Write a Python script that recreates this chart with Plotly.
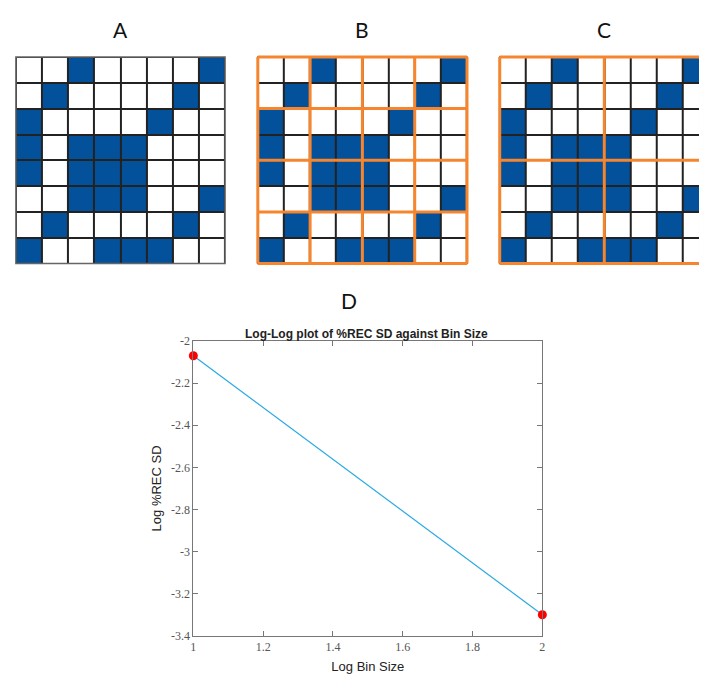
import plotly.graph_objects as go

# ---------------- data ----------------
grid_rows = [
    [0, 0, 1, 0, 0, 0, 0, 1],
    [0, 1, 0, 0, 0, 0, 1, 0],
    [1, 0, 0, 0, 0, 1, 0, 0],
    [1, 0, 1, 1, 1, 0, 0, 0],
    [1, 0, 1, 1, 1, 0, 0, 0],
    [0, 0, 1, 1, 1, 0, 0, 1],
    [0, 1, 0, 0, 0, 0, 1, 0],
    [1, 0, 0, 1, 1, 1, 0, 0],
]
panel_labels = ["A", "B", "C"]
panel_bins = [None, 2, 4]
log_bin_size = [1, 2]
log_rec_sd = [-2.07, -3.30]
x_ticks = [1, 1.2, 1.4, 1.6, 1.8, 2]
y_ticks = [-2, -2.2, -2.4, -2.6, -2.8, -3, -3.2, -3.4]

# ---------------- layout constants ----------------
W, H = 702, 680
BLUE = "#03519B"
ORANGE = "#F5862F"
n = len(grid_rows)
grid_left_px = [13, 257, 501]
grid_top_px, grid_bot_px = 51, 262
cell_px = (grid_bot_px - grid_top_px) / n
pad = 0.12  # cells of padding around each grid so edge lines aren't clipped

fig = go.Figure()
shapes = []
annotations = []

for i, (lab, b) in enumerate(zip(panel_labels, panel_bins)):
    k = i + 2
    xa, ya = f"xaxis{k}", f"yaxis{k}"
    xr, yr = f"x{k}", f"y{k}"
    left = grid_left_px[i] - pad * cell_px
    right = grid_left_px[i] + n * cell_px + pad * cell_px
    x_hi = n - 0.5 + pad
    if right > W:
        x_hi = -0.5 - pad + (W - left) / cell_px
        right = W
    top = grid_top_px - pad * cell_px
    bot = grid_bot_px + pad * cell_px
    fig.add_trace(go.Heatmap(
        z=grid_rows, x=list(range(n)), y=list(range(n)),
        colorscale=[[0, "white"], [1, BLUE]], zmin=0, zmax=1,
        showscale=False, xgap=2, ygap=2, xaxis=xr, yaxis=yr, hoverinfo="skip",
    ))
    fig.update_layout(**{
        xa: dict(domain=[left / W, right / W], range=[-0.5 - pad, x_hi],
                 visible=False, fixedrange=True),
        ya: dict(domain=[1 - bot / H, 1 - top / H],
                 range=[n - 0.5 + pad, -0.5 - pad], visible=False, fixedrange=True),
    })
    # dark background behind the cells -> grid lines through the gaps
    shapes.append(dict(type="rect", xref=xr, yref=yr, x0=-0.5, x1=n - 0.5,
                       y0=-0.5, y1=n - 0.5, fillcolor="#222", line=dict(width=0),
                       layer="below"))
    shapes.append(dict(type="rect", xref=xr, yref=yr, x0=-0.5, x1=n - 0.5,
                       y0=-0.5, y1=n - 0.5, fillcolor="rgba(0,0,0,0)",
                       line=dict(width=1.5, color="#666")))
    if b:
        bounds = [j * b - 0.5 for j in range(n // b + 1)]
        for v in bounds:
            shapes.append(dict(type="line", xref=xr, yref=yr, x0=v, x1=v,
                               y0=-0.5, y1=n - 0.5, line=dict(color=ORANGE, width=3)))
            shapes.append(dict(type="line", xref=xr, yref=yr, y0=v, y1=v,
                               x0=-0.5, x1=n - 0.5, line=dict(color=ORANGE, width=3)))
    cx = (grid_left_px[i] + n * cell_px / 2)
    annotations.append(dict(text=lab, x=cx / W, y=1 - 23 / H, xref="paper",
                            yref="paper", showarrow=False, xanchor="center",
                            yanchor="middle",
                            font=dict(family="Lato", size=21, color="#111")))

# ---------------- panel D ----------------
annotations.append(dict(text="D", x=349 / W, y=1 - 300 / H, xref="paper",
                        yref="paper", showarrow=False, xanchor="center",
                        yanchor="middle",
                        font=dict(family="Lato", size=21, color="#111")))
annotations.append(dict(text="<b>Log-Log plot of %REC SD against Bin Size</b>",
                        x=367 / W, y=1 - 334 / H, xref="paper", yref="paper",
                        showarrow=False, xanchor="center", yanchor="middle",
                        font=dict(family="Liberation Sans", size=12, color="#222")))

fig.add_trace(go.Scatter(
    x=log_bin_size, y=log_rec_sd, mode="lines+markers",
    line=dict(color="#2AAAE2", width=1.2),
    marker=dict(color="#FF0000", size=9, line=dict(width=0)),
    cliponaxis=False, xaxis="x", yaxis="y", hoverinfo="skip",
))

axis_common = dict(
    showgrid=False, zeroline=False, showline=True, linecolor="#777", linewidth=1,
    mirror="ticks", ticks="inside", ticklen=5, tickcolor="#777",
    tickfont=dict(family="Liberation Serif", size=12, color="#555"),
)
fig.update_layout(
    xaxis=dict(domain=[192 / W, 544 / W], range=[1, 2], tickvals=x_ticks,
               ticktext=[f"{t:g}" for t in x_ticks],
               title=dict(text="Log Bin Size", standoff=8,
                          font=dict(family="Liberation Sans", size=13, color="#222")),
               **axis_common),
    yaxis=dict(domain=[1 - 642 / H, 1 - 341 / H], range=[-3.4, -2], tickvals=y_ticks,
               ticktext=[f"{t:g}" for t in y_ticks],
               title=dict(text="Log %REC SD", standoff=6,
                          font=dict(family="Liberation Sans", size=13, color="#222")),
               **axis_common),
    width=W, height=H, margin=dict(l=0, r=0, t=0, b=0),
    paper_bgcolor="white", plot_bgcolor="white", showlegend=False,
    shapes=shapes, annotations=annotations,
)

fig.write_html("out.html")
